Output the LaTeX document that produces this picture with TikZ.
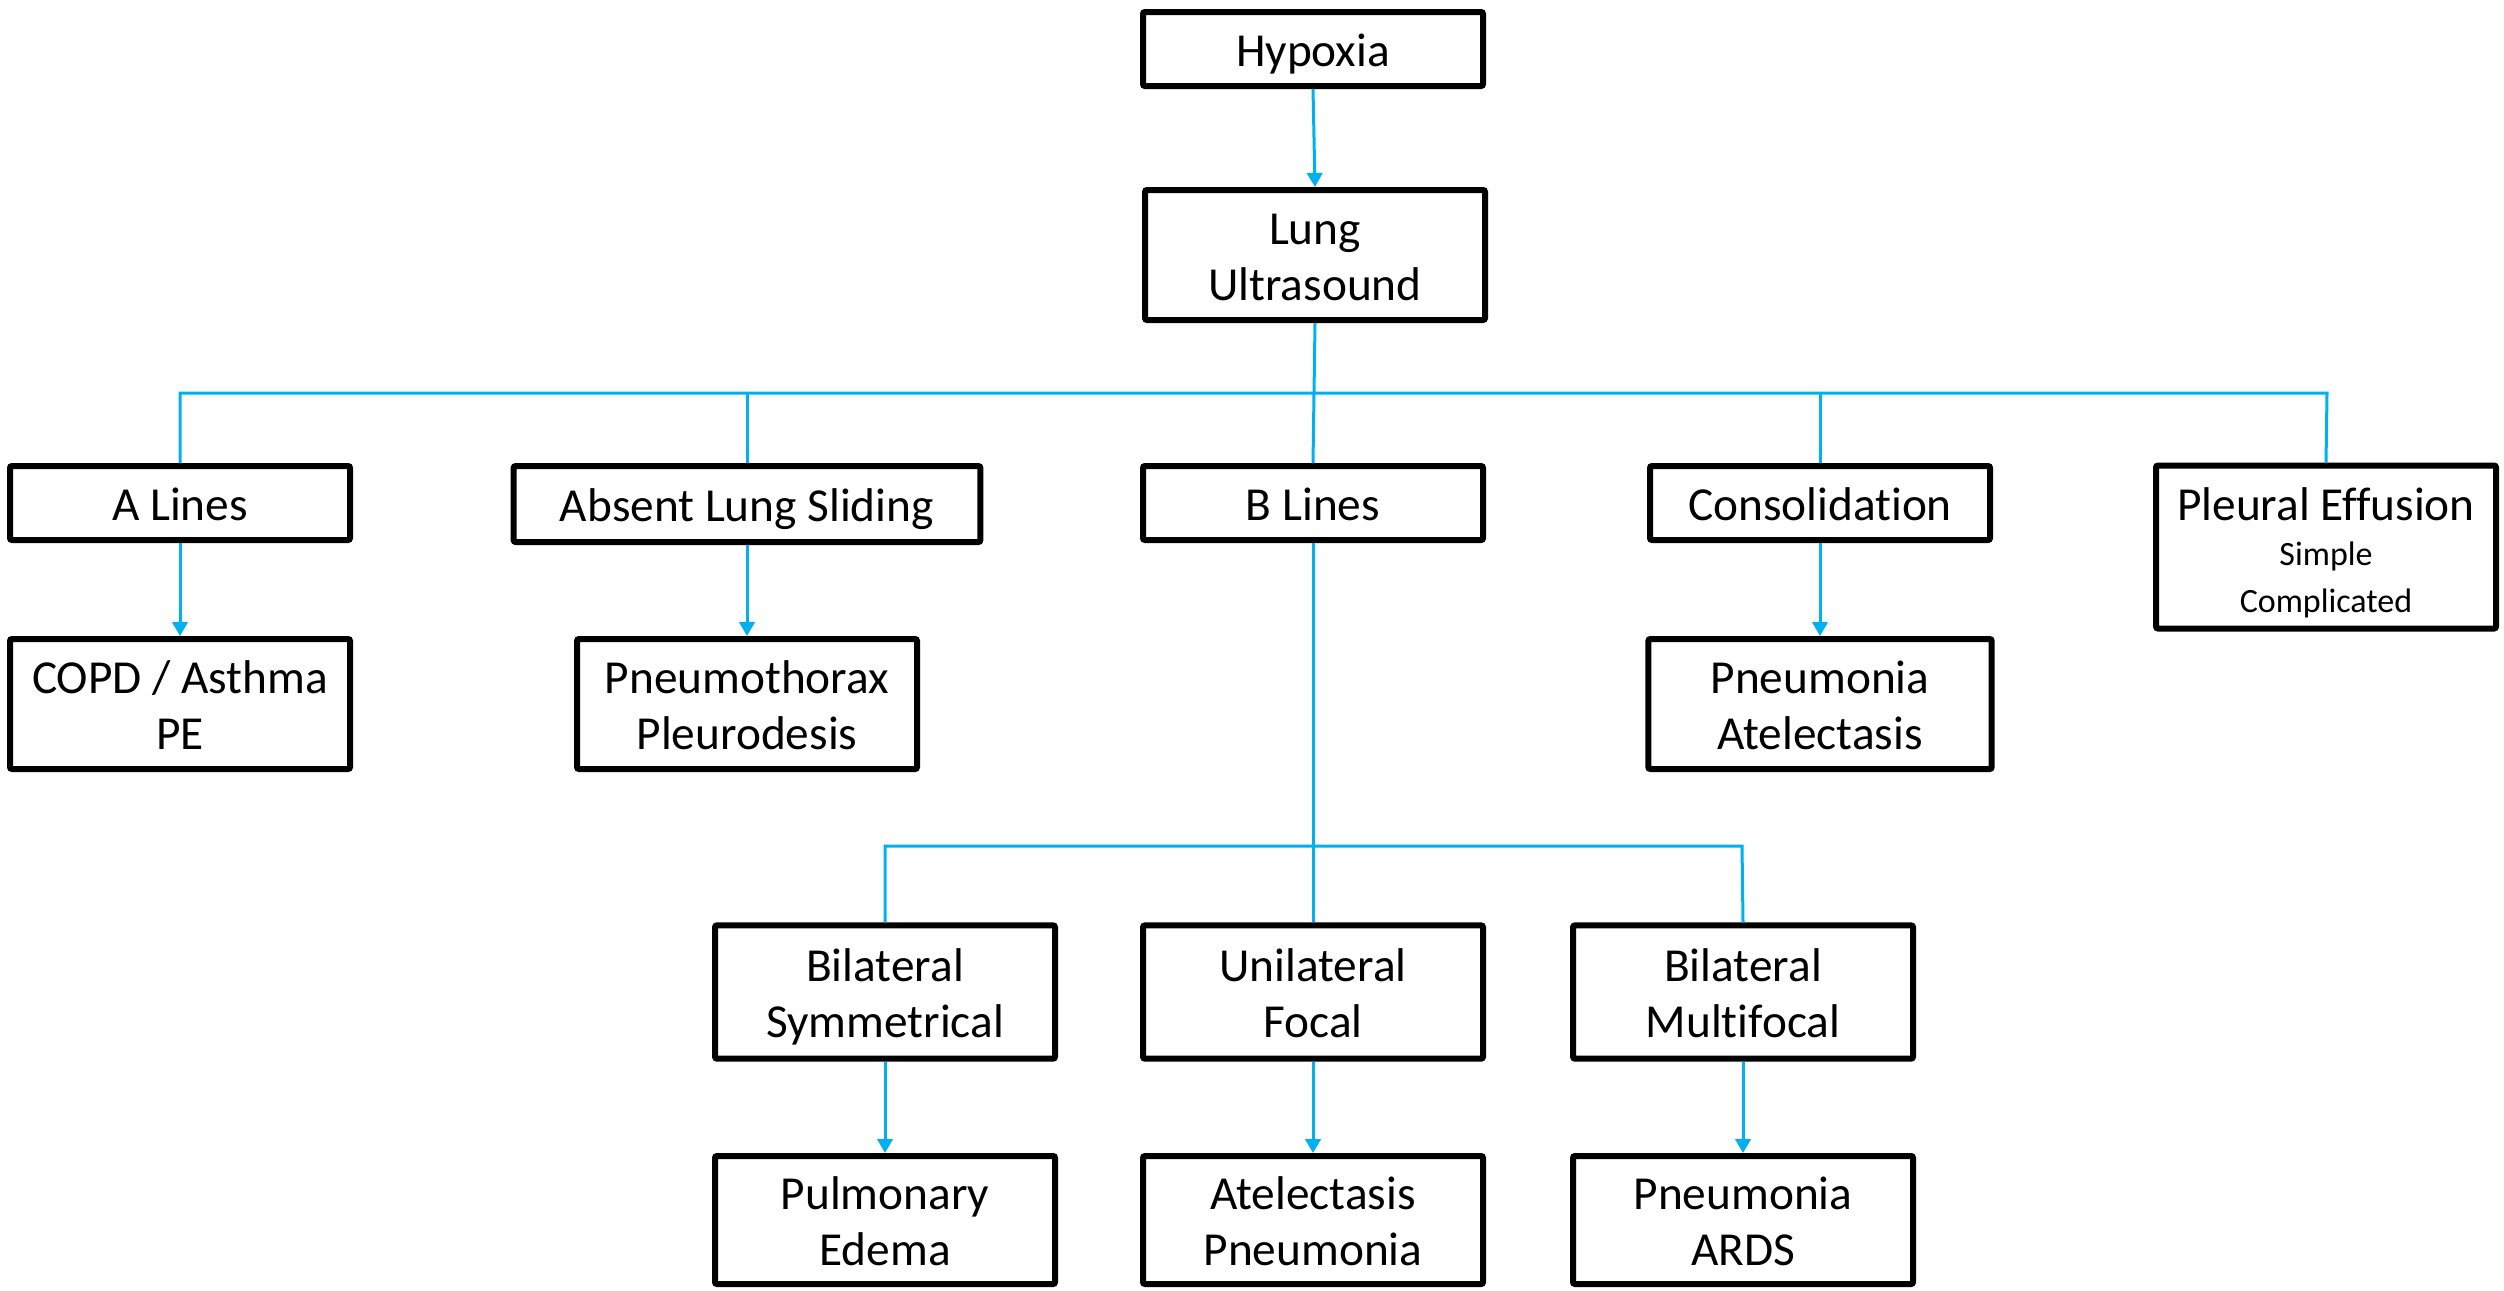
\documentclass[tikz,border=0pt]{standalone}
\usepackage{fontspec}
\setmainfont[Ligatures=NoCommon]{Carlito}
\usetikzlibrary{arrows.meta}
\definecolor{conn}{HTML}{00B0F0}
\newcommand\tstr{\rule{0pt}{13.5pt}}
\newcommand\bstr{\rule[-3.3pt]{0pt}{3.3pt}}
\begin{document}
\begin{tikzpicture}[x=0.3pt,y=-0.3pt,
  box/.style={draw=black,line width=1.8pt,rounded corners=0.6pt,fill=white,align=center,inner sep=0pt,
     font=\fontsize{14.2}{16.8}\selectfont,minimum width=#1},
  box/.default=102pt,
  conline/.style={draw=conn,line width=0.9pt},
  arr/.style={conline,-{Triangle[width=4.6pt,length=4.2pt]}}]
\useasboundingbox (0,0) rectangle (2504,1290);
% nodes
\node[box,minimum height=22.2pt] (hyp) at (1313,49) {\tstr Hypoxia\bstr};
\node[box,minimum height=39pt] (lus) at (1315,255) {\tstr Lung\\Ultrasound\bstr};
\node[box,minimum height=22.2pt] (alines) at (180,503) {\tstr A Lines\bstr};
\node[box=140pt,minimum height=22.8pt] (absent) at (747,504) {\tstr Absent Lung Sliding\bstr};
\node[box,minimum height=22.2pt] (blines) at (1313,503) {\tstr B Lines\bstr};
\node[box,minimum height=22.2pt] (consol) at (1820,503) {\tstr Consolidation\bstr};
\node[box,minimum height=48.9pt] (pleural) at (2326,547) {\rule{0pt}{13.2pt}Pleural Effusion\\[-3.1pt]\fontsize{10.2}{13.5}\selectfont Simple\\[-2.9pt]\fontsize{10.2}{13.5}\selectfont Complicated};
\node[box,minimum height=39pt] (copd) at (180,704) {\tstr COPD / Asthma\\PE\bstr};
\node[box,minimum height=39pt] (pneumo) at (747,704) {\tstr Pneumothorax\\Pleurodesis\bstr};
\node[box=103pt,minimum height=39pt] (pnat) at (1820,704) {\tstr Pneumonia\\Atelectasis\bstr};
\node[box,minimum height=40pt] (bsym) at (885,992) {\tstr Bilateral\\Symmetrical\bstr};
\node[box,minimum height=40pt] (ufoc) at (1313,992) {\tstr Unilateral\\Focal\bstr};
\node[box,minimum height=40pt] (bmul) at (1743,992) {\tstr Bilateral\\Multifocal\bstr};
\node[box,minimum height=38.4pt] (pedem) at (885,1220) {\tstr Pulmonary\\Edema\bstr};
\node[box,minimum height=38.4pt] (atel) at (1313,1220) {\tstr Atelectasis\\Pneumonia\bstr};
\node[box,minimum height=38.4pt] (ards) at (1743,1220) {\tstr Pneumonia\\ARDS\bstr};
% bus coordinates
\coordinate (b1l) at (180,393);
\coordinate (b1r) at (2327,393);
\coordinate (b2l) at (885,846);
\coordinate (b2r) at (1742,846);
% connectors
\draw[arr] (hyp.south) -- (lus.north);
\draw[conline] (lus.south) -- (blines.north);
\draw[conline] (alines.north) -- (b1l) -- (b1r) -- (pleural.north);
\draw[conline] (absent.north) -- (absent.north |- b1l);
\draw[conline] (consol.north) -- (consol.north |- b1l);
\draw[arr] (alines.south) -- (copd.north);
\draw[arr] (absent.south) -- (pneumo.north);
\draw[arr] (consol.south) -- (pnat.north);
\draw[conline] (blines.south) -- (ufoc.north);
\draw[conline] (bsym.north) -- (b2l) -- (b2r) -- (bmul.north);
\draw[arr] (bsym.south) -- (pedem.north);
\draw[arr] (ufoc.south) -- (atel.north);
\draw[arr] (bmul.south) -- (ards.north);
\end{tikzpicture}
\end{document}
